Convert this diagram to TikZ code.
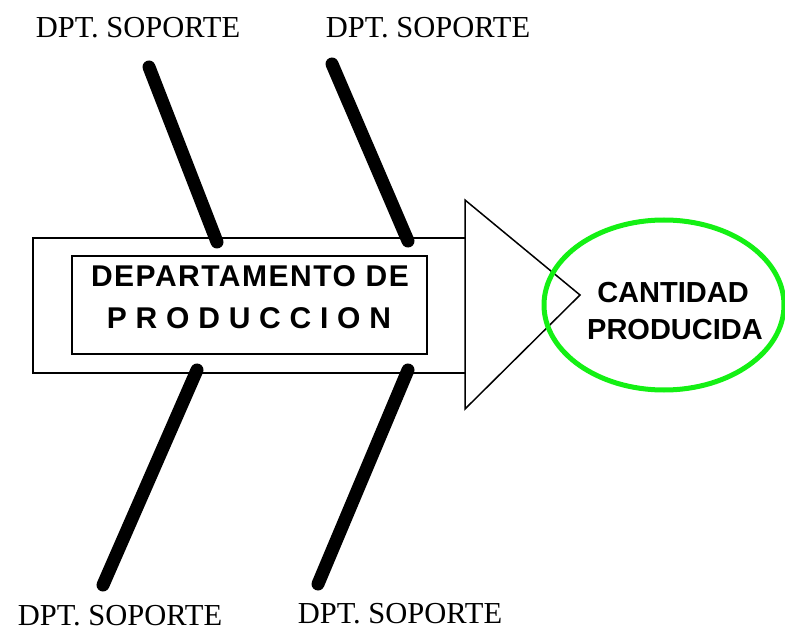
\documentclass[tikz,border=0pt]{standalone}
\usepackage{fontspec}
\usetikzlibrary{shapes.geometric}
\setmainfont{Liberation Serif}
\newfontfamily\arialA[LetterSpace=5]{Liberation Sans}
\newfontfamily\arialB[LetterSpace=1.5]{Liberation Sans}
\newfontfamily\arialC{Liberation Sans}
\definecolor{ringgreen}{RGB}{20,240,20}
\begin{document}
\begin{tikzpicture}[x=1pt,y=-1pt,
  outline/.style={draw=black,line width=1.7pt},
  bone/.style={draw=black,line width=13pt,line cap=round},
  deptlabel/.style={font=\fontsize{30.5}{34}\selectfont,anchor=base,inner sep=0pt},
  boxtxt/.style={anchor=base,inner sep=0pt}]
\useasboundingbox (0,0) rectangle (785,631);
% outer box and inner box
\draw[outline] (465,238) -- (33,238) -- (33,373) -- (465,373);
\draw[outline] (72,256) rectangle (427,354);
% arrow head
\draw[outline,line width=1.5pt,line join=miter] (465,200) -- (465,409) -- (580,295) -- cycle;
% result ellipse
\node[draw=ringgreen,line width=5pt,ellipse,minimum width=240pt,minimum height=170pt,inner sep=0pt] (res) at (664,305) {};
% bone end points
\coordinate (tl1) at (149,67);  \coordinate (tl2) at (217,242);
\coordinate (tr1) at (332,64);  \coordinate (tr2) at (408,241);
\coordinate (bl1) at (197,370); \coordinate (bl2) at (103,585);
\coordinate (br1) at (408,370); \coordinate (br2) at (318,584);
\draw[bone] (tl1) -- (tl2);
\draw[bone] (tr1) -- (tr2);
\draw[bone] (bl1) -- (bl2);
\draw[bone] (br1) -- (br2);
% labels
\node[deptlabel] (ltl) at (138,38) {DPT. SOPORTE};
\node[deptlabel] (ltr) at (428,38) {DPT. SOPORTE};
\node[deptlabel] (lbl) at (120,625) {DPT. SOPORTE};
\node[deptlabel] (lbr) at (400,623) {DPT. SOPORTE};
% box text
\node[boxtxt,font=\fontsize{30}{34}\selectfont\arialA\bfseries] (dep1) at (250,287) {DEPARTAMENTO DE};
\node[boxtxt,font=\fontsize{30}{34}\selectfont\arialB\bfseries] (dep2) at (249,328) {P R O D U C C I O N};
\node[boxtxt,font=\fontsize{29}{34}\selectfont\arialC\bfseries] (res1) at (673,303) {CANTIDAD};
\node[boxtxt,font=\fontsize{29}{34}\selectfont\arialC\bfseries] (res2) at (675,339) {PRODUCIDA};
\end{tikzpicture}
\end{document}
